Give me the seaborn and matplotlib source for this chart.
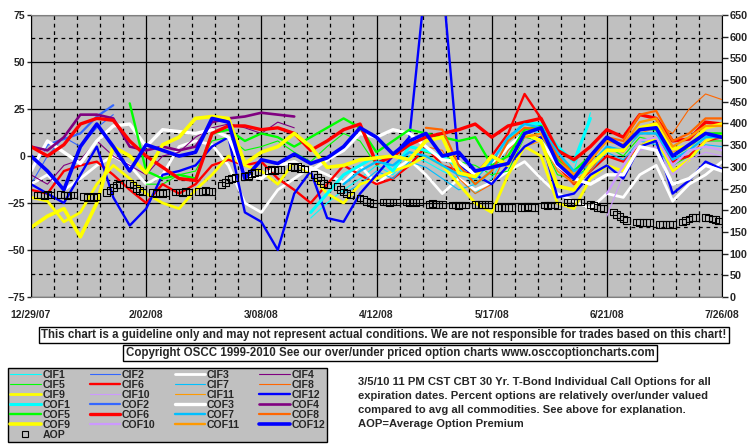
import numpy as np
import pandas as pd
import matplotlib
matplotlib.use("Agg")
import matplotlib.pyplot as plt
import matplotlib.dates as mdates
from matplotlib.lines import Line2D
from matplotlib.ticker import MultipleLocator, FixedLocator
import seaborn as sns

nan = np.nan

# grade de 5 em 5 dias, 12/29/07 ate 7/26/08 (43 pontos)
datas = pd.date_range("2007-12-29", "2008-07-26", freq="5D")

# valores em % (eixo esquerdo)
CIF1 = [nan]*17 + [-33, -25, -18, -12, -5, -10, 0, -3, -8, -12, -20, -12, 3, 15, 12, 0, -8, 23] + [nan]*8
COF1 = [nan]*17 + [-30, -20, -10, -5, 0, -8, 5, 3, 0, -6, -15, -8, 8, 18, 17, 5, -3, 20] + [nan]*8
CIF2 = [-15, 0, 10, 5, 15, 22] + [nan]*37
COF2 = [-8, 6, 9, 12, 21, 27] + [nan]*37
CIF3 = [-15, -10, -18, -12, -5, 0, -5, -15, -10, 5, 8, 6, -5, -25, -30, -18, -12, -6, -10, -14, -5,
        -15, -8, -2, -10, -20, -12, -18, -14, -8, -3, -12, -20, -24, -28, -20, -22, -10, -5, -24, -15, -10, -3]
COF3 = [-8, 8, 2, -4, 8, 16, 17, 5, 14, 13, 12, 14, 10, -10, -12, -5, -3, -8, -2, 3, 12,
        10, 14, 12, 5, -2, -3, -10, -5, 5, 12, 8, -5, -12, -15, -10, -10, 5, 3, -15, -12, -5, -8]
CIF4 = [-10, -15, -5, -2, 8, 0, -5, -10, 0, 2, 10, 15, 17, 15, 12, 18, 15] + [nan]*26
COF4 = [5, 3, 10, 22, 22, 20, 5, 3, 5, 3, 5, 18, 20, 21, 23, 22, 21] + [nan]*26
CIF5 = [nan]*7 + [-15, -15, -10, -8, 8, 10, 3, 5, 8, 2, -3, 5, 12, 8, -5, 0, 5, 2, 0, -3,
                  -5, -10, -8, 10, 8, -10, -12, -5, 5, 0, 10, 8, -5, 0, 8, 8]
COF5 = [nan]*6 + [28, -8, -12, -10, -12, 12, 14, 8, 12, 10, 5, 10, 15, 20, 15, 2, 8, 14, 12,
                  10, 8, 10, -5, 0, 14, 16, -2, -8, 0, 10, 5, 15, 14, 0, 5, 12, 12]
CIF6 = [-18, -20, -8, -5, -3, -10, -18, -25, -15, -20, -15, -5, -2, -5, -3, -12, -18, -25, -15, -5, -10,
        -15, -12, -5, 5, -5, -8, -10, 0, 12, 33, 20, -5, -15, -8, 0, -3, 5, 10, -3, 0, 8, 10]
COF6 = [5, 0, 6, 17, 20, 19, 8, 0, -6, -12, -13, 12, 16, 16, 14, 15, 12, 3, 8, 14, 17,
        -4, 0, 6, 10, 12, 14, 17, 10, 16, 18, 20, 3, -2, 5, 14, 10, 22, 20, 8, 9, 18, 17]
CIF7 = [nan]*19 + [-20, -15, -8, -12, -3, -6, -12, -18, -15, -8, 5, 12, 10, -3, -10, -8, 2, -2, 8, 6, -8, -2, 6, 5]
COF7 = [nan]*19 + [-15, -8, -3, -5, 2, 0, -5, -10, -12, -3, 10, 17, 15, 2, -8, -5, 5, 3, 12, 12, -2, 3, 10, 10]
CIF8 = [nan]*24 + [5, 3, -12, -20, -15, 3, 12, 10, -8, -15, -8, 5, 3, 15, 18, 12, 25, 33, 30]
COF8 = [nan]*24 + [15, 14, -5, -15, -8, 8, 15, 14, 0, -10, -3, 10, 8, 22, 24, 8, 12, 20, 20]
CIF9 = [-22, -24, -35, -30, -15, -5, -12, -20, -25, -28, -18, -10, 0, -5, -8, -15, -3, -10, -20, -25, -15,
        -12, -8, -5, 0, -5, -15, -25, -30, -10, 5, 0, -25, -28, -12, -5, -8, 5, 10, -8, -2, 8, 12]
COF9 = [-38, -32, -28, -43, -25, 5, 0, -9, 6, 10, 20, 21, 20, -4, 2, 5, 12, 5, -6, -5, -2,
        -1, 0, -2, 8, 10, -9, -11, 0, -5, 12, 8, -16, -18, -5, 3, 3, 15, 17, 4, 5, 15, 17]
CIF10 = [nan]*35 + [-32, -10, 3, 5, -10, -2, 2, 0]
COF10 = [nan]*35 + [-20, -5, 8, 10, -5, 3, 5, 3]
CIF11 = [nan]*30 + [5, 8, -8, -14, -6, 4, 2, 12, 15, 2, 6, 12, 12]
COF11 = [nan]*30 + [10, 12, -3, -10, -2, 8, 6, 18, 20, 5, 10, 16, 16]
CIF12 = [-15, -20, -25, -10, 5, -22, -37, -28, -10, -8, -5, 5, 10, -30, -35, -50, -20, -8, -33, -35, -20,
         -10, 0, 10, 95, 95, -5, -10, -15, -5, 5, 10, -22, -20, -10, -5, -12, 5, 8, -20, -13, -3, -7]
COF12 = [0, -8, -18, 5, 17, 5, -8, 6, 3, 0, 2, 20, 18, -12, -2, -4, 1, -4, -1, 5, 15,
         10, 1, 8, 12, 0, 2, -8, -6, -4, 12, 15, -4, -12, 0, 10, 5, 14, 15, 0, 6, 12, 10]

# AOP (eixo direito), um valor por dia util
datas_aop = pd.bdate_range("2007-12-31", "2008-07-25")
AOP = [235, 235, 234, 236, 235, 236, 235, 234, 235, 235, 231, 230, 231, 230, 231,
       240, 245, 252, 258, 260, 262, 258, 250, 245, 242, 240, 239, 240, 239, 240,
       242, 242, 241, 243, 242, 244, 244, 245, 244, 244, 258, 264, 270, 274, 276,
       277, 280, 284, 287, 288, 292, 293, 292, 294, 293, 300, 298, 300, 296, 295,
       282, 275, 268, 262, 258, 254, 248, 242, 238, 235, 228, 224, 220, 217, 216,
       219, 219, 218, 219, 219, 219, 218, 219, 218, 219, 214, 215, 214, 214, 213,
       212, 212, 211, 212, 212, 214, 214, 213, 214, 214, 207, 207, 206, 207, 207,
       207, 207, 208, 207, 207, 212, 211, 212, 212, 211, 219, 218, 219, 219, 219,
       214, 210, 207, 205, 204, 196, 190, 185, 180, 177, 173, 172, 171, 171, 171,
       168, 168, 168, 168, 168, 173, 176, 180, 183, 184, 184, 182, 180, 178, 175]

datas_ticks = pd.to_datetime(["2007-12-29", "2008-02-02", "2008-03-08", "2008-04-12",
                              "2008-05-17", "2008-06-21", "2008-07-26"])
rotulos_x = ["12/29/07", "2/02/08", "3/08/08", "4/12/08", "5/17/08", "6/21/08", "7/26/08"]

series = {"CIF1": CIF1, "CIF2": CIF2, "CIF3": CIF3, "CIF4": CIF4, "CIF5": CIF5, "CIF6": CIF6,
          "CIF7": CIF7, "CIF8": CIF8, "CIF9": CIF9, "CIF10": CIF10, "CIF11": CIF11, "CIF12": CIF12,
          "COF1": COF1, "COF2": COF2, "COF3": COF3, "COF4": COF4, "COF5": COF5, "COF6": COF6,
          "COF7": COF7, "COF8": COF8, "COF9": COF9, "COF10": COF10, "COF11": COF11, "COF12": COF12}

cores_base = {1: "#00FFFF", 2: "#3366FF", 3: "#FFFFFF", 4: "#800080", 5: "#00FF00", 6: "#FF0000",
              7: "#00BFFF", 8: "#FF6600", 9: "#FFFF00", 10: "#CC99FF", 11: "#FF9900", 12: "#0000FF"}
larg_cif = {1: 0.8, 2: 0.8, 3: 2.0, 4: 0.8, 5: 0.8, 6: 1.7, 7: 0.8, 8: 0.8, 9: 2.0, 10: 0.8, 11: 0.8, 12: 1.7}
larg_cof = {1: 2.2, 2: 1.6, 3: 2.4, 4: 1.9, 5: 1.7, 6: 2.4, 7: 1.7, 8: 1.6, 9: 2.6, 10: 1.6, 11: 1.7, 12: 2.6}

def estilo(nome):
    n = int(nome[3:])
    lw = larg_cif[n] if nome.startswith("CIF") else larg_cof[n]
    return cores_base[n], lw

sns.set_style("white")
plt.rcParams['font.family'] = ['Liberation Sans', 'DejaVu Sans']
plt.rcParams['font.weight'] = 'bold'

fig = plt.figure(figsize=(7.55, 4.46), dpi=100)
ax = fig.add_axes([31/755, 1-297/446, 691/755, 282/446])
ax.set_facecolor("#C0C0C0")

for nome, vals in series.items():
    cor, lw = estilo(nome)
    sns.lineplot(x=datas, y=vals, color=cor, lw=lw, ax=ax, legend=False)

ax.set_xlim(datas_ticks[0], datas_ticks[-1])
ax.set_ylim(-75, 75)
ax.yaxis.set_major_locator(MultipleLocator(25))
ax.yaxis.set_minor_locator(MultipleLocator(12.5))
ax.xaxis.set_major_locator(FixedLocator(mdates.date2num(datas_ticks)))
ax.xaxis.set_minor_locator(FixedLocator(mdates.date2num(pd.date_range("2007-12-29", "2008-07-26", freq="7D"))))
ax.set_xticklabels(rotulos_x)
ax.grid(which="major", color="black", lw=0.9, ls="-")
ax.grid(which="minor", color="black", lw=0.9, ls=(0, (3, 3)))
ax.set_axisbelow(True)
ax.tick_params(axis="y", which="major", length=3, width=1, pad=1, labelsize=7.5, left=True)
ax.tick_params(axis="y", which="minor", length=0)
ax.tick_params(axis="x", which="both", length=0, pad=9, labelsize=7.5)
for lab in ax.get_xticklabels() + ax.get_yticklabels():
    lab.set_fontweight("bold")
ax.set_xlabel("")
ax.set_ylabel("")
for lado in ["top", "bottom", "right"]:
    ax.spines[lado].set_visible(False)
ax.spines["left"].set_color("black")

ax2 = ax.twinx()
sns.scatterplot(x=datas_aop, y=AOP, marker="s", s=24, color="black", facecolor="none",
                edgecolor="black", linewidth=0.8, ax=ax2, legend=False, zorder=5)
ax2.set_ylim(0, 650)
ax2.yaxis.set_major_locator(MultipleLocator(50))
ax2.tick_params(axis="y", length=4, width=1, pad=1.5, labelsize=7.8, right=True)
for lab in ax2.get_yticklabels():
    lab.set_fontweight("bold")
ax2.set_ylabel("")
ax2.spines["left"].set_visible(False)
ax2.spines["right"].set_color("black")
ax2.spines["top"].set_color("#808080")
ax2.spines["bottom"].set_color("#808080")
ax2.grid(False)

# legenda (ordem por coluna para ficar igual ao original)
ordem = ["CIF1", "CIF5", "CIF9", "COF1", "COF5", "COF9", "AOP",
         "CIF2", "CIF6", "CIF10", "COF2", "COF6", "COF10",
         "CIF3", "CIF7", "CIF11", "COF3", "COF7", "COF11",
         "CIF4", "CIF8", "CIF12", "COF4", "COF8", "COF12"]
handles = []
for nome in ordem:
    if nome == "AOP":
        handles.append(Line2D([], [], marker="s", ls="none", mfc="none", mec="black", ms=4, mew=0.8))
    else:
        cor, lw = estilo(nome)
        handles.append(Line2D([], [], color=cor, lw=lw))
leg = fig.legend(handles, ordem, ncol=4, loc="lower left",
                 bbox_to_anchor=(8/755, 4/446, 319/755, 74/446), mode="expand",
                 fontsize=7.6, labelspacing=0.0, handlelength=2.9, handletextpad=0.15,
                 borderpad=0.2, columnspacing=0.5, borderaxespad=0, fancybox=False,
                 framealpha=1, facecolor="#C0C0C0", edgecolor="black")
leg.get_frame().set_linewidth(1)
for t in leg.get_texts():
    t.set_fontweight("bold")

aviso = ("This chart is a guideline only and may not represent actual conditions. "
         "We are not responsible for trades based on this chart!")
copyright_txt = "Copyright OSCC 1999-2010 See our over/under priced option charts www.osccoptioncharts.com"
caixa = dict(boxstyle="square,pad=0.2", fc="white", ec="black", lw=1)
fig.text(384/755, 1-335/446, aviso, ha="center", va="center", fontsize=8.3, fontweight="bold", bbox=caixa)
fig.text(390/755, 1-353/446, copyright_txt, ha="center", va="center", fontsize=8.3, fontweight="bold", bbox=caixa)

notas = ["3/5/10 11 PM CST CBT 30 Yr. T-Bond Individual Call Options for all",
         "expiration dates. Percent options are relatively over/under valued",
         "compared to avg all commodities. See above for explanation.",
         "AOP=Average Option Premium"]
for i, linha in enumerate(notas):
    fig.text(358/755, 1-(382 + 14*i)/446, linha, ha="left", va="center", fontsize=8.1, fontweight="bold")

fig.savefig("out.png", dpi=100)
